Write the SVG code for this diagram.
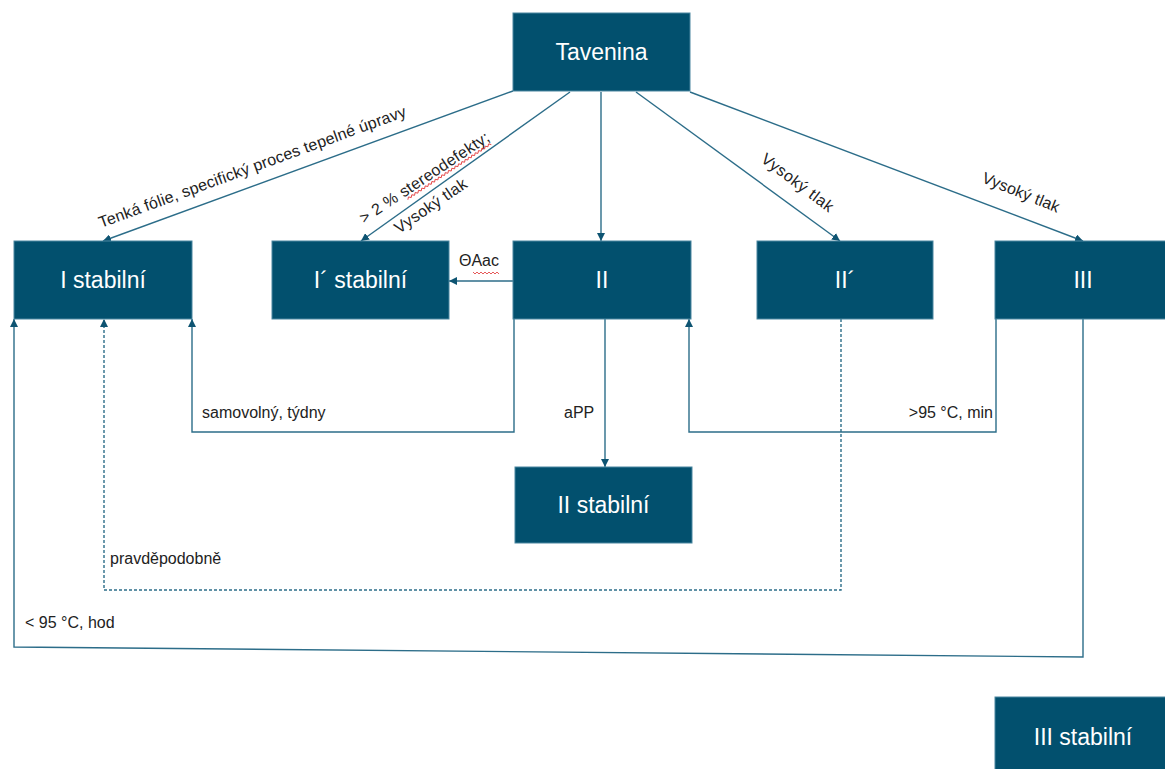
<svg xmlns="http://www.w3.org/2000/svg" width="1165" height="769" viewBox="0 0 1165 769">
<style>
.box{fill:#02506E;stroke:#4A86A0;stroke-width:1}
.bt{font-family:"Liberation Sans",Arial,sans-serif;font-size:23px;fill:#FFFFFF;text-anchor:middle}
.ln{fill:none;stroke:#2C6D89;stroke-width:1.4}
.dash{fill:none;stroke:#2C6D89;stroke-width:1.4;stroke-dasharray:3 2}
.lb{font-family:"Liberation Sans",Arial,sans-serif;font-size:16px;fill:#222222}
.sq{fill:none;stroke:#E03030;stroke-width:0.8}
</style>
<defs>
<marker id="ar" viewBox="0 0 10 10" refX="10" refY="5" markerWidth="8" markerHeight="8" markerUnits="userSpaceOnUse" orient="auto">
<path d="M0,0 L10,5 L0,10 Z" fill="#0E5472"/>
</marker>
</defs>
<rect width="1165" height="769" fill="#FFFFFF"/>
<g id="connectors">
<line class="ln" x1="513" y1="91" x2="103" y2="241" marker-end="url(#ar)"/>
<line class="ln" x1="570" y1="92" x2="361" y2="241" marker-end="url(#ar)"/>
<line class="ln" x1="601" y1="92" x2="601" y2="241" marker-end="url(#ar)"/>
<line class="ln" x1="636" y1="92" x2="840" y2="241" marker-end="url(#ar)"/>
<line class="ln" x1="690" y1="92" x2="1083" y2="241" marker-end="url(#ar)"/>
<line class="ln" x1="513" y1="281" x2="449" y2="281" marker-end="url(#ar)"/>
<polyline class="ln" points="514,319 514,432 192,432 192,319" marker-end="url(#ar)"/>
<line class="ln" x1="605" y1="319" x2="605" y2="467" marker-end="url(#ar)"/>
<polyline class="ln" points="996,319 996,432 689,432 689,319" marker-end="url(#ar)"/>
<polyline class="dash" points="841,319 841,590 104,590 104,319" marker-end="url(#ar)"/>
<polyline class="ln" points="1083,319 1083,657 14,647 14,319" marker-end="url(#ar)"/>
<text class="lb" transform="translate(101,228) rotate(-20.1)" textLength="326">Tenká fólie, specifický proces tepelné úpravy</text>
<g transform="translate(364,224) rotate(-33.5)">
<text class="lb" x="0" y="0" textLength="152">&gt; 2 % stereodefekty;</text>
<path class="sq" d="M50,4 l2,-2 l2,2 l2,-2 l2,2 l2,-2 l2,2 l2,-2 l2,2 l2,-2 l2,2 l2,-2 l2,2 l2,-2 l2,2 l2,-2 l2,2 l2,-2 l2,2 l2,-2 l2,2 l2,-2 l2,2 l2,-2 l2,2 l2,-2 l2,2 l2,-2 l2,2 l2,-2 l2,2 l2,-2 l2,2 l2,-2 l2,2 l2,-2 l2,2 l2,-2 l2,2 l2,-2 l2,2 l2,-2 l2,2 l2,-2 l2,2 l2,-2 l2,2 l2,-2 l2,2 l2,-2 l2,2"/>
</g>
<text class="lb" transform="translate(399,234) rotate(-34.5)" textLength="84">Vysoký tlak</text>
<text class="lb" transform="translate(760,161) rotate(37)" textLength="86">Vysoký tlak</text>
<text class="lb" transform="translate(981,182) rotate(22)" textLength="82">Vysoký tlak</text>
<text class="lb" x="459" y="266">ΘAac</text>
<path class="sq" d="M473,272 l2,2 l2,-2 l2,2 l2,-2 l2,2 l2,-2 l2,2 l2,-2 l2,2 l2,-2 l2,2 l2,-2 l2,2"/>
<text class="lb" x="202" y="418">samovolný, týdny</text>
<text class="lb" x="564" y="418">aPP</text>
<text class="lb" x="993" y="418" text-anchor="end">&gt;95 °C, min</text>
<text class="lb" x="110" y="564">pravděpodobně</text>
<text class="lb" x="25" y="628">&lt; 95 °C, hod</text>
</g>
<g id="tavenina"><rect class="box" x="513" y="13" width="177" height="78"/><text class="bt" x="601.5" y="60">Tavenina</text></g>
<g id="i-stabilni"><rect class="box" x="14" y="241" width="178" height="78"/><text class="bt" x="103" y="288">I stabilní</text></g>
<g id="i-prime-stabilni"><rect class="box" x="272" y="241" width="177" height="78"/><text class="bt" x="360.5" y="288">I´ stabilní</text></g>
<g id="ii"><rect class="box" x="513" y="241" width="178" height="78"/><text class="bt" x="602" y="288">II</text></g>
<g id="ii-prime"><rect class="box" x="757" y="241" width="176" height="78"/><text class="bt" x="845" y="288">II´</text></g>
<g id="iii"><rect class="box" x="995" y="241" width="177" height="78"/><text class="bt" x="1083" y="288">III</text></g>
<g id="ii-stabilni"><rect class="box" x="515" y="467" width="177" height="76"/><text class="bt" x="603.5" y="513">II stabilní</text></g>
<g id="iii-stabilni"><rect class="box" x="995" y="697" width="177" height="78"/><text class="bt" x="1083" y="745">III stabilní</text></g>
</svg>
